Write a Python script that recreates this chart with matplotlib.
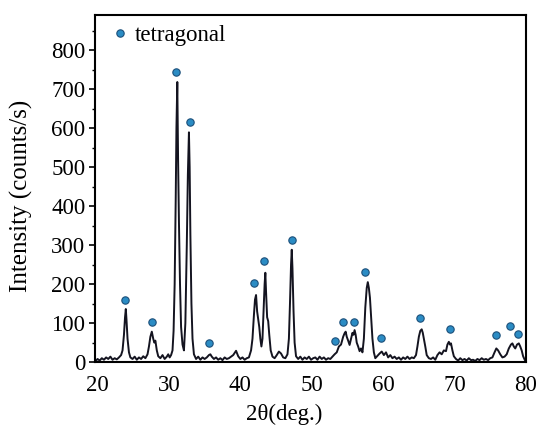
import matplotlib
matplotlib.use("Agg")
import matplotlib.pyplot as plt
from matplotlib.ticker import MultipleLocator

plt.rcParams['font.family'] = ['Liberation Serif', 'DejaVu Serif']

# XRD pattern (2theta in degrees, intensity in counts/s)
two_theta = [
    19.7, 20.0, 20.3, 20.6, 20.9, 21.2, 21.5, 21.8, 22.1, 22.4, 22.7, 23.0, 23.3,
    23.5, 23.7, 23.85, 23.96, 24.05, 24.2, 24.4, 24.6,
    24.9, 25.2, 25.5, 25.8, 26.1, 26.4, 26.7, 27.0,
    27.2, 27.4, 27.6, 27.8, 27.95, 28.1, 28.3, 28.5,
    28.8, 29.1, 29.4, 29.7, 29.9, 30.1, 30.3, 30.5,
    30.65, 30.8, 30.95, 31.05, 31.17, 31.28, 31.4, 31.55, 31.7, 31.9, 32.1,
    32.3, 32.5, 32.65, 32.8, 32.9, 33.0, 33.15, 33.3, 33.5,
    33.8, 34.1, 34.4, 34.7, 35.0, 35.3, 35.6, 35.8, 36.0, 36.3, 36.6, 36.9,
    37.2, 37.5, 37.8, 38.1, 38.4, 38.7, 39.0, 39.4, 39.7, 40.0, 40.3, 40.6,
    40.9, 41.2, 41.5,
    41.7, 41.9, 42.05, 42.2, 42.35, 42.5, 42.65, 42.8, 42.95,
    43.1, 43.25, 43.4, 43.5, 43.6, 43.75, 43.9, 44.05, 44.25, 44.5,
    44.8, 45.1, 45.4, 45.7, 46.0, 46.3, 46.6,
    46.8, 46.95, 47.1, 47.2, 47.3, 47.45, 47.6, 47.8,
    48.1, 48.4, 48.7, 49.0, 49.3, 49.6, 49.9, 50.2, 50.5, 50.8, 51.1, 51.4,
    51.7, 52.0, 52.3, 52.6, 52.9, 53.2, 53.5, 53.8, 54.1,
    54.4, 54.6, 54.75, 54.9, 55.1, 55.3, 55.5, 55.7, 55.85, 56.0, 56.15, 56.3,
    56.5, 56.7, 56.9, 57.1, 57.3, 57.5, 57.7, 57.85, 58.0, 58.15, 58.3, 58.5,
    58.7, 58.9, 59.2, 59.5, 59.8, 60.1, 60.4, 60.7, 61.0, 61.3, 61.6, 61.9,
    62.2, 62.5, 62.8, 63.1, 63.4, 63.7, 64.0, 64.3, 64.6, 64.8, 65.0, 65.2,
    65.4, 65.55, 65.7, 65.9, 66.1, 66.4, 66.7, 67.0, 67.3, 67.6, 67.9, 68.2,
    68.5, 68.8, 69.0, 69.2, 69.35, 69.5, 69.7, 69.9, 70.2, 70.5, 70.8, 71.1,
    71.4, 71.7, 72.0, 72.3, 72.6, 72.9, 73.2, 73.5, 73.8, 74.1, 74.4, 74.7,
    75.0, 75.3, 75.6, 75.85, 76.1, 76.4, 76.7, 77.0, 77.3, 77.6, 77.9, 78.1,
    78.3, 78.5, 78.75, 79.0, 79.2, 79.4, 79.6, 79.85,
]
intensity = [
    2, 8, 4, 10, 6, 12, 8, 14, 6, 10, 7, 12, 18,
    30, 70, 115, 136, 110, 60, 25, 12,
    8, 14, 6, 12, 8, 15, 10, 20,
    40, 65, 78, 60, 50, 55, 30, 15,
    10, 18, 8, 14, 20, 12, 18, 30,
    80, 200, 420, 600, 718, 520, 360, 200, 90, 45, 30,
    100, 300, 480, 589, 500, 330, 150, 60, 20,
    8, 14, 6, 12, 8, 12, 18, 20, 14, 8, 12, 6,
    10, 5, 12, 8, 10, 14, 18, 29, 15, 8, 12, 6,
    10, 12, 30,
    60, 120, 160, 172, 130, 110, 90, 60, 40,
    60, 130, 200, 229, 180, 115, 105, 70, 30, 14,
    10, 18, 27, 22, 12, 10, 20,
    60, 150, 250, 288, 240, 130, 50, 15,
    8, 14, 6, 12, 8, 14, 6, 10, 12, 6, 14, 8,
    12, 6, 10, 8, 14, 20, 25, 40, 45,
    65, 74, 78, 65, 55, 44, 60, 75, 70, 82, 70, 50,
    40, 28, 35, 25, 60, 140, 190, 205, 190, 165, 120, 60,
    25, 10, 16, 22, 27, 18, 25, 12, 18, 10, 14, 8,
    12, 6, 12, 8, 14, 8, 12, 10, 18, 40, 65, 80,
    84, 75, 60, 40, 18, 10, 8, 12, 6, 18, 25, 20,
    30, 28, 45, 52, 45, 48, 30, 15, 8, 4, 10, 5,
    8, 4, 10, 5, 6, 3, 8, 5, 10, 6, 8, 5,
    10, 12, 25, 35, 30, 20, 12, 14, 20, 35, 45, 48,
    40, 35, 45, 48, 40, 30, 15, 5,
]

# tetragonal phase markers
peak_x = [23.9, 27.6, 31.0, 33.0, 35.6, 41.95, 43.35, 47.2, 53.2, 54.4, 55.9,
          57.4, 59.7, 65.2, 69.3, 75.8, 77.8, 78.9]
peak_y = [159, 103, 744, 615, 48, 203, 259, 313, 55, 104, 104,
          232, 63, 112, 84, 69, 93, 71]

x_ticks = [20, 30, 40, 50, 60, 70, 80]
y_ticks = [0, 100, 200, 300, 400, 500, 600, 700, 800]

fig = plt.figure(figsize=(5.4, 4.26), dpi=100)
ax = fig.add_axes([0.176, 0.150, 0.798, 0.815])

ax.plot(two_theta, intensity, color='#141420', lw=1.4)
ax.plot(peak_x, peak_y, ls='none', marker='o', ms=5.3,
        markerfacecolor='#2b8cc4', markeredgecolor='#1b4f7a', mew=0.8,
        label='tetragonal')

ax.set_xlim(19.65, 79.95)
ax.set_ylim(0, 890)
ax.set_xticks(x_ticks)
ax.set_yticks(y_ticks)
ax.yaxis.set_minor_locator(MultipleLocator(50))
ax.tick_params(axis='x', length=0, labelsize=16.5, pad=9)
ax.tick_params(axis='y', which='major', length=4, width=1.2, direction='out', labelsize=16.5, pad=3)
ax.tick_params(axis='y', which='minor', length=2.5, width=1.0, direction='out')
for sp in ax.spines.values():
    sp.set_linewidth(1.5)

ax.set_xlabel('2θ(deg.)', fontsize=16.5)
ax.xaxis.set_label_coords(0.44, -0.12)
ax.set_ylabel('Intensity (counts/s)', fontsize=18)
ax.yaxis.set_label_coords(-0.143, 0.48)

ax.legend(loc='upper left', frameon=False, fontsize=16.5, handlelength=0.6,
          handletextpad=0.35, borderaxespad=0.0, bbox_to_anchor=(0.02, 0.998))

fig.savefig('out.png', dpi=100)
